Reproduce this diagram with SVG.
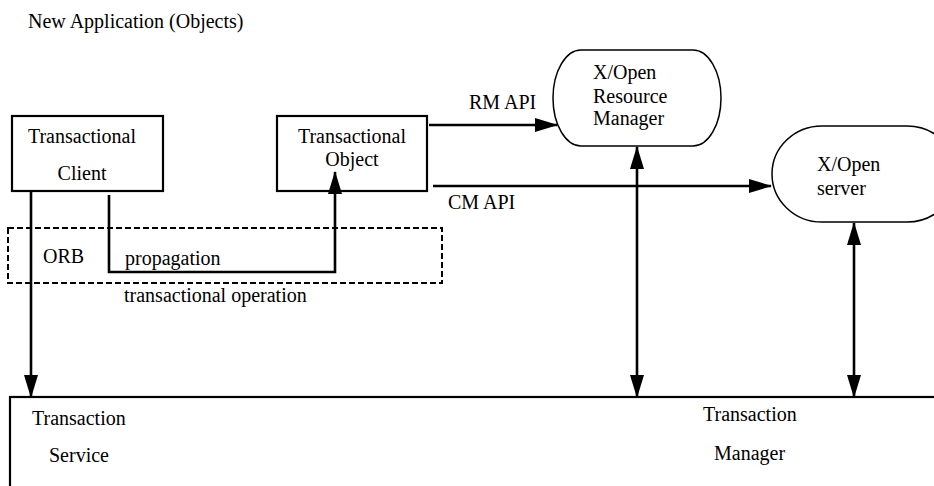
<svg xmlns="http://www.w3.org/2000/svg" width="934" height="486" viewBox="0 0 934 486" font-family="'Liberation Serif', 'Times New Roman', 'DejaVu Serif', serif">
<style>
text{font-family:'Liberation Serif','Times New Roman','DejaVu Serif',serif;font-size:20px;fill:#000}
.box{fill:#fff;stroke:#000;stroke-width:2.2}
.pill{fill:#fff;stroke:#000;stroke-width:1.5}
.conn{fill:none;stroke:#000;stroke-width:2.6}
.dash{fill:none;stroke:#000;stroke-width:2;stroke-dasharray:6 3}
</style>
<defs>
<marker id="ah" markerUnits="userSpaceOnUse" markerWidth="23" markerHeight="14" viewBox="0 0 23 14" refX="22" refY="7" orient="auto-start-reverse">
<path d="M0,0 L23,7 L0,14 z" fill="#000"/>
</marker>
</defs>
<text x="28" y="28">New Application (Objects)</text>
<g id="orb">
<rect class="dash" x="8" y="228" width="434" height="55"/>
<text x="43" y="263">ORB</text>
</g>
<g id="client">
<rect class="box" x="12" y="116" width="151" height="75"/>
<text x="82" y="143" text-anchor="middle">Transactional</text>
<text x="82" y="180" text-anchor="middle">Client</text>
</g>
<g id="object">
<rect class="box" x="277" y="116" width="150" height="75"/>
<text x="352" y="143" text-anchor="middle">Transactional</text>
<text x="352" y="166" text-anchor="middle">Object</text>
</g>
<g id="rm">
<rect class="pill" x="553" y="50" width="168" height="96" rx="28" ry="48"/>
<text x="593" y="79">X/Open</text>
<text x="593" y="103">Resource</text>
<text x="593" y="125">Manager</text>
</g>
<g id="server">
<rect class="pill" x="772" y="126" width="185" height="96" rx="50" ry="48"/>
<text x="817" y="171">X/Open</text>
<text x="817" y="195">server</text>
</g>
<g id="tm">
<rect class="box" x="10" y="397" width="940" height="100" stroke-width="2.6"/>
<text x="32" y="425">Transaction</text>
<text x="49" y="462">Service</text>
<text x="703" y="421">Transaction</text>
<text x="714" y="460">Manager</text>
</g>
<g id="connectors">
<line class="conn" x1="429" y1="125" x2="557" y2="125" marker-end="url(#ah)"/>
<line class="conn" x1="433" y1="186" x2="771" y2="186" marker-end="url(#ah)"/>
<line class="conn" x1="31" y1="191" x2="31" y2="397" marker-end="url(#ah)"/>
<polyline class="conn" points="109,195 109,272 335,272 335,172" marker-end="url(#ah)" stroke-width="3"/>
<line class="conn" x1="637" y1="147" x2="637" y2="397" marker-start="url(#ah)" marker-end="url(#ah)"/>
<line class="conn" x1="854" y1="223" x2="854" y2="397" marker-start="url(#ah)" marker-end="url(#ah)"/>
<text x="469" y="109">RM API</text>
<text x="448" y="209">CM API</text>
<text x="125" y="265">propagation</text>
<text x="124" y="302">transactional operation</text>
</g>
</svg>
